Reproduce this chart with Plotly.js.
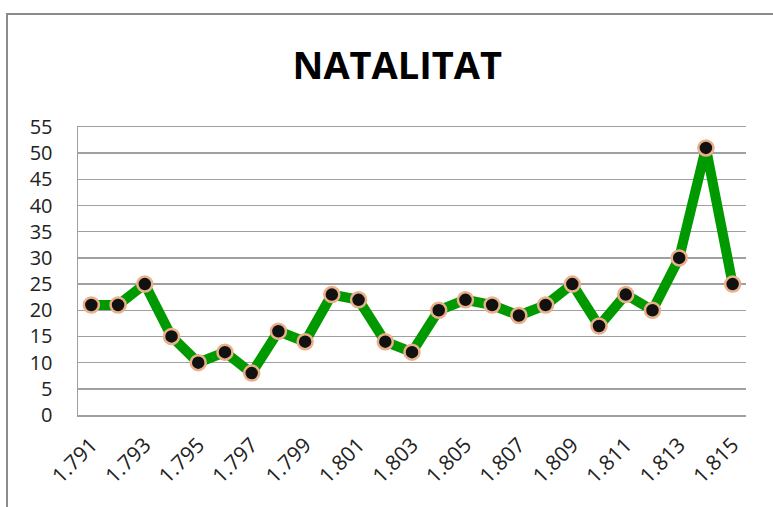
<!DOCTYPE html>
<html>
<head>
<meta charset="utf-8">
<script src="https://cdn.plot.ly/plotly-3.0.1.min.js"></script>
<style>
  html, body { margin: 0; padding: 0; overflow: hidden; background: #fff; width: 773px; height: 507px; }
  #frame { position: absolute; left: 6px; top: 13px; width: 790px; height: 510px; border: 2px solid #8c8c8c; }
  #chart { width: 790px; height: 510px; }
</style>
</head>
<body>
<div id="frame"><div id="chart"></div></div>
<script>
const years = [1791,1792,1793,1794,1795,1796,1797,1798,1799,1800,1801,1802,1803,1804,1805,1806,1807,1808,1809,1810,1811,1812,1813,1814,1815];
const births = [21,21,25,15,10,12,8,16,14,23,22,14,12,20,22,21,19,21,25,17,23,20,30,51,25];
const yearLabels = years.map(y => String(y).replace(/^(\d)(\d{3})$/, '$1.$2'));
const shownText = yearLabels.filter((y, i) => i % 2 === 0);
const yTicks = [0,5,10,15,20,25,30,35,40,45,50,55];

const trace = {
  x: yearLabels,
  y: births,
  type: 'scatter',
  mode: 'lines+markers',
  line: { color: '#009900', width: 10 },
  marker: { color: '#111111', size: 15, line: { color: '#eab08a', width: 2.5 } },
  hoverinfo: 'skip'
};

const layout = {
  width: 790, height: 510,
  margin: { l: 70, r: 52, t: 112, b: 110 },
  paper_bgcolor: '#ffffff', plot_bgcolor: '#ffffff',
  showlegend: false,
  title: {
    text: '<b>NATALITAT</b>',
    font: { family: 'Open Sans, sans-serif', size: 38, color: '#000' },
    xref: 'paper', x: 0.478, xanchor: 'center',
    yref: 'container', y: 0.9, yanchor: 'middle'
  },
  xaxis: {
    type: 'category',
    range: [-0.5, 24.5],
    tickmode: 'array',
    tickvals: shownText,
    ticktext: shownText,
    tickangle: -45,
    showgrid: false,
    zeroline: false,
    showline: true, mirror: true, linecolor: '#a0a0a0', linewidth: 1.5,
    ticks: 'outside', ticklen: 8, tickcolor: 'rgba(0,0,0,0)',
    tickfont: { family: 'Open Sans, sans-serif', size: 21, color: '#222' }
  },
  yaxis: {
    range: [0, 55],
    tickmode: 'array',
    tickvals: yTicks,
    showgrid: true, gridcolor: '#a0a0a0', gridwidth: 1.5,
    zeroline: false,
    showline: true, linecolor: '#a0a0a0', linewidth: 1.5,
    ticks: 'outside', ticklen: 20, tickcolor: 'rgba(0,0,0,0)',
    tickfont: { family: 'Open Sans, sans-serif', size: 20, color: '#222' }
  }
};

Plotly.newPlot('chart', [trace], layout, { displayModeBar: false, staticPlot: true });
</script>
</body>
</html>
